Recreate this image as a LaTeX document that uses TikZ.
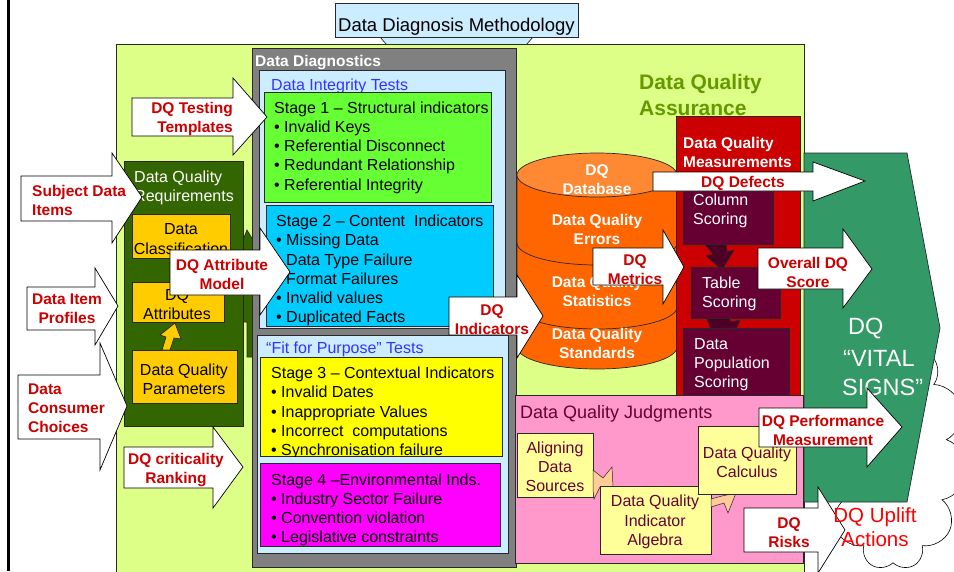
\documentclass[tikz,border=0pt]{standalone}
\usepackage{fontspec}
\setmainfont{Liberation Sans}
\usetikzlibrary{shapes.symbols}
\definecolor{lineC}{RGB}{40,40,40}
\definecolor{ttlblue}{RGB}{204,236,255}
\definecolor{ltblue}{RGB}{204,236,255}
\definecolor{dqagreen}{RGB}{221,255,136}
\definecolor{dqatext}{RGB}{102,153,0}
\definecolor{dgray}{RGB}{128,128,128}
\definecolor{st1}{RGB}{102,255,51}
\definecolor{st2}{RGB}{0,204,255}
\definecolor{st3}{RGB}{255,255,0}
\definecolor{st4}{RGB}{255,0,255}
\definecolor{hblue}{RGB}{51,51,255}
\definecolor{dkgreen}{RGB}{51,102,0}
\definecolor{orng}{RGB}{255,204,0}
\definecolor{cylbody}{RGB}{255,102,0}
\definecolor{cyltop}{RGB}{255,136,51}
\definecolor{dqred}{RGB}{204,0,0}
\definecolor{lblred}{RGB}{204,0,0}
\definecolor{mrn}{RGB}{102,0,51}
\definecolor{mrnarr}{RGB}{77,0,38}
\definecolor{pnk}{RGB}{255,153,204}
\definecolor{ltyel}{RGB}{255,255,153}
\definecolor{peach}{RGB}{255,204,153}
\definecolor{vgreen}{RGB}{51,153,102}
\definecolor{upred}{RGB}{255,0,0}
\newcommand{\dqarrow}[8]{\path[warr] (#1,#3) -- (#2,#3) -- (#2,#5) -- (#7,#8) -- (#2,#6) -- (#2,#4) -- (#1,#4) -- cycle;}
\begin{document}
\begin{tikzpicture}[x=1pt,y=-1pt,
 bx/.style={draw=lineC, line width=0.7pt},
 warr/.style={fill=white, draw=black, line width=0.7pt},
 lbl/.style={text=lblred, font=\bfseries\fontsize{15.5}{19}\selectfont, inner sep=0pt, align=center},
 txt/.style={font=\fontsize{16}{19.2}\selectfont, inner sep=0pt, align=left},
 ctxt/.style={font=\fontsize{16}{19.2}\selectfont, inner sep=0pt, align=center},
 wbold/.style={text=white, font=\bfseries\fontsize{15.5}{19}\selectfont, inner sep=0pt, align=center},
 head/.style={font=\fontsize{16}{19.2}\selectfont, inner sep=0pt, anchor=base west}
]
\useasboundingbox (0,0) rectangle (954,571);
% slide border
\draw[line width=2.7pt] (8.7,0) -- (8.7,571);
% cloud
\node[cloud, draw=black, line width=0.6pt, cloud puffs=11, minimum width=150pt, minimum height=230pt] (cloud) at (893,455) {};
% title callout
\path[bx, fill=ttlblue] (380,37) -- (533,37) -- (520,52) -- (393,52) -- cycle;
\path[bx, fill=ttlblue] (335,3) rectangle (578,37);
\node[font=\fontsize{18.5}{22}\selectfont, inner sep=0pt, anchor=base west] (title) at (338,31) {Data Diagnosis Methodology};
% container
\path[bx, fill=dqagreen] (116.5,44.5) rectangle (804,580);
\node[text=dqatext, font=\bfseries\fontsize{21}{26}\selectfont, inner sep=0pt, align=left, anchor=west] (dqa) at (639,94.5) {Data Quality\\Assurance};
% requirements
\path[fill=dkgreen, draw=lineC, line width=0.7pt] (243,240) -- (247,230) -- (253,240) -- (253,357) -- (247,357) -- (247,322) -- (243,322) -- cycle;
\path[bx, fill=dkgreen] (124,161) rectangle (243,426);
\node[txt, text=white, anchor=west] (req) at (134,188) {Data Quality\\Requirements};
\path[bx, fill=orng] (132,214) rectangle (230,258);
\node[ctxt] (dcl) at (181,239) {Data\\Classification};
\path[bx, fill=orng] (132,282) rectangle (224,322);
\node[ctxt] (dqat) at (177,304.5) {DQ\\Attributes};
\path[bx, fill=orng] (132,350) rectangle (237,403);
\node[ctxt] (dqp) at (184,379) {Data Quality\\Parameters};
\path[bx, fill=orng] (162,350) -- (166,337) -- (160,335) -- (175,323) -- (181,339) -- (174,338) -- (170,350) -- cycle;
% diagnostics
\path[bx, fill=dgray] (252,48) rectangle (516,567);
\node[text=white, font=\bfseries\fontsize{15.5}{19}\selectfont, inner sep=0pt, anchor=base west] (ddiag) at (255,66) {Data Diagnostics};
\path[bx, fill=ltblue] (259,70) rectangle (505,328);
\node[head, text=hblue] (dit) at (271,90) {Data Integrity Tests};
\path[bx, fill=st1] (264,92) rectangle (491,202);
\node[txt, anchor=west] (s1) at (274,147.5) {Stage 1 – Structural indicators\\• Invalid Keys\\• Referential Disconnect\\• Redundant Relationship\\• Referential Integrity};
\path[bx, fill=st2] (266,205) rectangle (493,326);
\node[txt, anchor=west] (s2) at (276,270.5) {Stage 2 – Content~ Indicators\\• Missing Data\\• Data Type Failure\\• Format Failures\\• Invalid values\\• Duplicated Facts};
\path[bx, fill=ltblue] (257,335) rectangle (508,553);
\node[head, text=hblue] (ffp) at (266,353) {“Fit for Purpose” Tests};
\path[bx, fill=st3] (260,357) rectangle (502,456);
\begin{scope}
\clip (260,357) rectangle (502,456);
\node[txt, anchor=west] (s3) at (271,413) {Stage 3 – Contextual Indicators\\• Invalid Dates\\• Inappropriate Values\\• Incorrect~ computations\\• Synchronisation failure};
\end{scope}
\path[bx, fill=st4] (260,463) rectangle (500,546);
\node[txt, anchor=west] (s4) at (271,510) {Stage 4 –Environmental Inds.\\• Industry Sector Failure\\• Convention violation\\• Legislative constraints};
% cylinder
\path[bx, fill=cylbody] (517,175) -- (517,347) arc[start angle=180, end angle=360, x radius=80pt, y radius=22pt] -- (677,175) -- cycle;
\draw[lineC, line width=0.7pt] (517,243) arc[start angle=180, end angle=360, x radius=80pt, y radius=22pt];
\draw[lineC, line width=0.7pt] (517,307) arc[start angle=180, end angle=360, x radius=80pt, y radius=22pt];
\path[bx, fill=cyltop] (597,175) ellipse [x radius=80pt, y radius=22pt];
\node[wbold] (cdb) at (597,179.5) {DQ\\Database};
\node[wbold] (cerr) at (597,229.5) {Data Quality\\Errors};
\node[wbold] (csta) at (597,291) {Data Quality\\Statistics};
\node[wbold] (cstd) at (597,343.5) {Data Quality\\Standards};
% measurements
\path[bx, fill=dqred] (676,116) rectangle (800,398);
\node[wbold, align=left, anchor=west] (dqm) at (683,152) {Data Quality\\Measurements};
\path[fill=mrnarr, draw=lineC, line width=0.5pt] (701,240) -- (726,240) -- (727,252) -- (734,250) -- (722,270) -- (706,256) -- (713,254) -- cycle;
\path[fill=mrnarr, draw=lineC, line width=0.5pt] (705,314) -- (727,314) -- (731,322) -- (740,320) -- (735,332) -- (712,332) -- cycle;
\path[bx, fill=mrn] (683,178) rectangle (773,244);
\node[txt, text=white, anchor=west] (cs) at (693,211) {Column\\Scoring};
\path[bx, fill=mrn] (691,267) rectangle (780,318);
\node[txt, text=white, anchor=west] (ts) at (702,294) {Table\\Scoring};
\path[bx, fill=mrn] (683,328) rectangle (789,395);
\node[txt, text=white, anchor=west] (dps) at (694,364.5) {Data\\Population\\Scoring};
% judgments
\path[bx, fill=pnk] (515,395) rectangle (803,563);
\node[text=mrn, font=\fontsize{18}{22}\selectfont, inner sep=0pt, anchor=base west] (dqj) at (520,418) {Data Quality Judgments};
\path[bx, fill=ltyel] (517,433) rectangle (593,497);
\node[ctxt, text=mrn] (ads) at (555,467) {Aligning\\Data\\Sources};
\path[fill=peach, draw=lineC, line width=0.5pt] (593,470) -- (603,478) -- (612,467) -- (613,487) -- (600,487) -- (594,499) -- (593,490) -- cycle;
\path[bx, fill=ltyel] (600,486) rectangle (711,554);
\node[ctxt, text=mrn] (dqia) at (655,522) {Data Quality\\Indicator\\Algebra};
\path[fill=peach, draw=lineC, line width=0.5pt] (711,499) -- (722,496) -- (736,493) -- (728,513) -- (724,503) -- (711,507) -- cycle;
\path[bx, fill=ltyel] (698,426) rectangle (796,494);
\node[ctxt, text=mrn] (dqc) at (747,462) {Data Quality\\Calculus};
% vital signs
\path[fill=vgreen, draw=lineC, line width=0.7pt] (804,153) -- (907,153) -- (940,328) -- (907,502) -- (804,502) -- cycle;
\node[text=white, font=\fontsize{23.5}{29}\selectfont, inner sep=0pt, anchor=west] (v1) at (848,329) {DQ};
\node[text=white, font=\fontsize{23.5}{29}\selectfont, inner sep=0pt, anchor=west] (v2) at (843,358) {“VITAL};
\node[text=white, font=\fontsize{23.5}{29}\selectfont, inner sep=0pt, anchor=west] (v3) at (842,387) {SIGNS”};
% white block arrows
\dqarrow{132}{233}{98}{136}{78}{155}{267}{117}
\node[lbl, align=right, anchor=east] (tt) at (233,119) {DQ Testing\\Templates};
\dqarrow{21}{112}{176}{221}{153}{243}{142}{197}
\node[lbl, align=left, anchor=west] (sdi) at (32,200) {Subject Data\\Items};
\dqarrow{27}{95}{287}{330}{268}{345}{118}{306}
\node[lbl] (dip) at (67,308.5) {Data Item\\Profiles};
\dqarrow{18}{100}{375}{439}{343}{470}{127}{406}
\node[lbl, align=left, anchor=west] (dcc) at (28,408.5) {Data\\Consumer\\Choices};
\dqarrow{124}{213}{447}{488}{427}{508}{243}{467}
\node[lbl] (dcr) at (176,470) {DQ criticality\\Ranking};
\dqarrow{170}{260}{250}{295}{228}{315}{290}{272}
\node[lbl] (dam) at (222,274) {DQ Attribute\\Model};
\dqarrow{449}{517}{297}{335}{275}{358}{543}{316}
\node[lbl] (dqi) at (492,319.5) {DQ\\Indicators};
\dqarrow{593}{663}{248}{285}{230}{304}{684}{267}
\node[lbl] (dqmet) at (635,270) {DQ\\Metrics};
\dqarrow{653}{813}{172}{191}{162}{201}{865}{181}
\node[lbl] (dqd) at (743,183) {DQ Defects};
\dqarrow{758}{843}{248}{289}{229}{308}{872}{269}
\node[lbl] (ods) at (808,272) {Overall DQ\\Score};
\dqarrow{759}{867}{408}{447}{388}{467}{902}{427}
\node[lbl] (dpm) at (823,430.5) {DQ Performance\\Measurement};
\dqarrow{744}{818}{508}{552}{487}{573}{845}{530}
\node[lbl] (dqr) at (789,533) {DQ\\Risks};
% uplift text
\node[text=upred, font=\fontsize{20.5}{24.5}\selectfont, inner sep=0pt, align=center] (upl) at (875,527) {DQ Uplift\\Actions};
\end{tikzpicture}
\end{document}
